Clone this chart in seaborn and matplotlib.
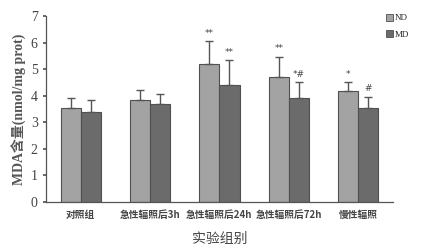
import matplotlib
matplotlib.use("Agg")
import matplotlib.pyplot as plt
import seaborn as sns
import pandas as pd
import numpy as np
from matplotlib.patches import Patch

categories = ["对照组", "急性辐照后3h", "急性辐照后24h", "急性辐照后72h", "慢性辐照"]
series_names = ["ND", "MD"]
nd_values = [3.55, 3.82, 5.20, 4.70, 4.16]
md_values = [3.40, 3.67, 4.39, 3.91, 3.53]
nd_err = [0.35, 0.38, 0.85, 0.77, 0.36]
md_err = [0.45, 0.38, 0.94, 0.59, 0.44]
nd_marks = ["", "", "**", "**", "*"]
md_marks = ["", "", "**", "*#", "#"]

sns.set_theme(style="white")
plt.rcParams['font.family'] = ['Noto Sans CJK SC', 'DejaVu Sans']

df = pd.DataFrame({
    "group": categories * 2,
    "value": nd_values + md_values,
    "series": [series_names[0]] * 5 + [series_names[1]] * 5,
})

fig = plt.figure(figsize=(4.22, 2.5), dpi=100)
ax = fig.add_axes([0.109, 0.192, 0.822, 0.744])
colors = ["#a3a3a3", "#6b6b6b"]
sns.barplot(data=df, x="group", y="value", hue="series", palette=colors,
            errorbar=None, width=0.58, edgecolor="#505050", linewidth=0.8,
            saturation=1, ax=ax, legend=False)

errs = [nd_err, md_err]
marks = [nd_marks, md_marks]
bar_conts = list(ax.containers)
for ci, cont in enumerate(bar_conts):
    for bi, bar in enumerate(cont.patches):
        xc = bar.get_x() + bar.get_width() / 2
        h = bar.get_height()
        e = errs[ci][bi]
        ax.errorbar([xc], [h], yerr=[[0], [e]], fmt="none", ecolor="#555555",
                    elinewidth=1.0, capsize=3, capthick=1.0)
        if marks[ci][bi]:
            ax.text(xc, h + e + 0.12, marks[ci][bi], ha="center", va="bottom",
                    fontsize=6.5, color="#444444", family=["DejaVu Sans"])

ax.set_xlim(-0.5, 4.5)
ax.set_ylim(0, 7)
ax.set_yticks(range(0, 8))
ax.set_yticklabels([str(i) for i in range(8)], family=["Liberation Serif"],
                   fontsize=10, color="#444444")
ax.set_xticks(range(5))
ax.set_xticklabels(categories, fontsize=7, fontweight="bold", color="#444444")
ax.set_xticks([0.5, 1.5, 2.5, 3.5, 4.5], minor=True)
ax.tick_params(axis="x", which="major", length=0, pad=6)
ax.tick_params(axis="x", which="minor", length=2, direction="in", color="#555555")
ax.tick_params(axis="y", length=2, direction="out", color="#555555", pad=4, left=True)

for s in ["top", "right"]:
    ax.spines[s].set_visible(False)
for s in ["left", "bottom"]:
    ax.spines[s].set_color("#555555")
    ax.spines[s].set_linewidth(0.9)

ax.set_xlabel("实验组别", fontsize=10, color="#444444", labelpad=8)
ax.set_ylabel("MDA含量(nmol/mg prot)", fontsize=10, fontweight="bold",
              family=["Liberation Serif", "Noto Sans CJK SC"], color="#555555",
              labelpad=3)

handles = [Patch(facecolor=colors[i], edgecolor="#505050", linewidth=0.6)
           for i in range(2)]
leg = fig.legend(handles, series_names, loc="upper left",
                 bbox_to_anchor=(0.905, 0.96), frameon=False,
                 prop={"family": ["Liberation Serif"], "size": 6.5},
                 handlelength=0.8, handleheight=0.8, handletextpad=0.2,
                 labelspacing=0.9, borderaxespad=0)

fig.savefig("out.png", dpi=100)
